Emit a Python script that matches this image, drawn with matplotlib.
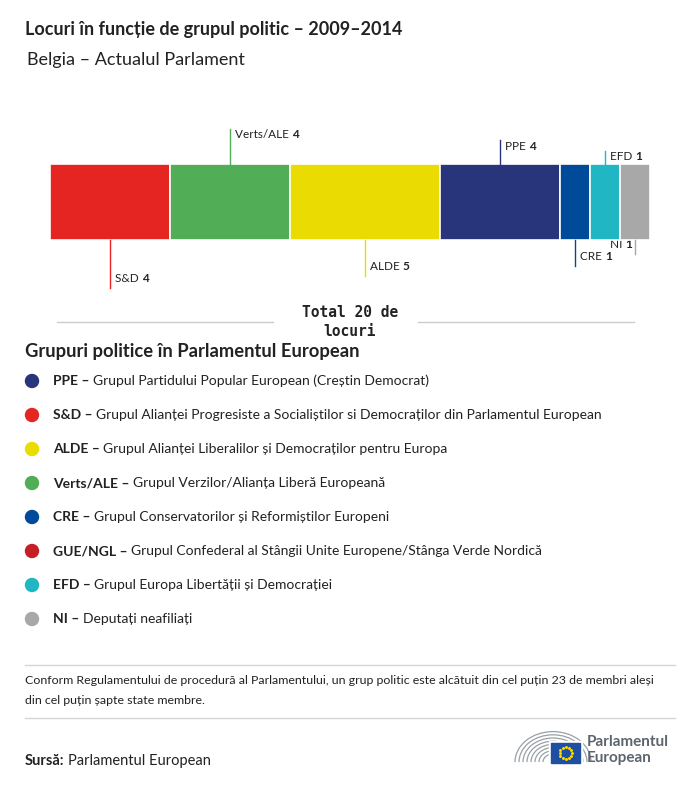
import matplotlib
matplotlib.use('Agg')
import matplotlib.pyplot as plt
from matplotlib.patches import Arc, Circle, Rectangle
import numpy as np

plt.rcParams['font.family'] = ['Lato', 'DejaVu Sans']

# seats per group, Belgia 2009-2014 (bar order left to right)
groups = ['S&D', 'Verts/ALE', 'ALDE', 'PPE', 'CRE', 'EFD', 'NI']
seats = [4, 4, 5, 4, 1, 1, 1]
bar_colors = ['#e52521', '#52ad57', '#eadc02', '#29357b', '#004a9a', '#21b6c4', '#a8a8a8']
# label side and length of the leader line (px)
label_side = ['down', 'up', 'down', 'up', 'down', 'up', 'down']
leader_len = [48, 35, 36, 24, 26, 13, 14]

# legend
leg_abbr = ['PPE', 'S&D', 'ALDE', 'Verts/ALE', 'CRE', 'GUE/NGL', 'EFD', 'NI']
leg_desc = ['Grupul Partidului Popular European (Creștin Democrat)',
            'Grupul Alianței Progresiste a Socialiștilor si Democraților din Parlamentul European',
            'Grupul Alianței Liberalilor și Democraților pentru Europa',
            'Grupul Verzilor/Alianța Liberă Europeană',
            'Grupul Conservatorilor și Reformiștilor Europeni',
            'Grupul Confederal al Stângii Unite Europene/Stânga Verde Nordică',
            'Grupul Europa Libertății și Democrației',
            'Deputați neafiliați']
leg_colors = ['#29357b', '#e52521', '#eadc02', '#52ad57', '#004a9a', '#c51f25', '#21b6c4', '#a8a8a8']

W, H = 700, 786
fig = plt.figure(figsize=(W / 100, H / 100), dpi=100)

# pixel overlay axes for the text and decorations
ax = fig.add_axes([0, 0, 1, 1])
ax.set_xlim(0, W)
ax.set_ylim(H, 0)
ax.axis('off')

# bar axes: x in seats, y in pixels
bar_top, bar_bot = 164, 240
y0, y1 = 120, 300
bx = fig.add_axes([50 / W, 1 - y1 / H, 600 / W, (y1 - y0) / H])
bx.set_xlim(0, sum(seats))
bx.set_ylim(y1, y0)
bx.axis('off')

lefts = np.cumsum([0] + seats[:-1])
bx.barh((bar_top + bar_bot) / 2, seats, left=lefts, height=bar_bot - bar_top,
        color=bar_colors, edgecolor='white', linewidth=1.2)

fig.canvas.draw()
renderer = fig.canvas.get_renderer()
inv = ax.transData.inverted()

for g, s, l, c, side, ln in zip(groups, seats, lefts, bar_colors, label_side, leader_len):
    xc = l + s / 2
    if side == 'down':
        bx.plot([xc, xc], [bar_bot, bar_bot + ln], color=c, lw=1, clip_on=False)
        ty = bar_bot + ln - 9
    else:
        bx.plot([xc, xc], [bar_top, bar_top - ln], color=c, lw=1, clip_on=False)
        ty = bar_top - ln + 6
    xpix = ax.transData.inverted().transform(bx.transData.transform((xc, 0)))[0]
    if g == 'NI':
        # label sits left of its leader line
        t = ax.text(xpix - 3, ty, str(s), fontsize=8.5, fontweight='bold', va='center',
                    ha='right', color='#222222')
        bb = t.get_window_extent(renderer)
        xs = inv.transform((bb.x0, 0))[0]
        ax.text(xs, ty, g + ' ', fontsize=8.5, va='center', ha='right', color='#222222')
    else:
        t = ax.text(xpix + 5, ty, g + ' ', fontsize=8.5, va='center', ha='left', color='#222222')
        bb = t.get_window_extent(renderer)
        xend = inv.transform((bb.x1, 0))[0]
        ax.text(xend, ty, str(s), fontsize=8.5, fontweight='bold', va='center', ha='left',
                color='#222222')

# title / subtitle
ax.text(25, 30, 'Locuri în funcție de grupul politic – 2009–2014', fontsize=13,
        fontweight='bold', va='center', ha='left', color='#222222')
ax.text(27, 60, 'Belgia – Actualul Parlament', fontsize=13, va='center', ha='left',
        color='#222222')

# total
ax.plot([57, 273], [322, 322], color='#cccccc', lw=1)
ax.plot([418, 634], [322, 322], color='#cccccc', lw=1)
ax.text(350, 322, 'Total 20 de\nlocuri', family='DejaVu Sans Mono', fontsize=10.5,
        fontweight='bold', ha='center', va='center', linespacing=1.35, color='#222222')

# legend
ax.text(25, 352, 'Grupuri politice în Parlamentul European', fontsize=13.2,
        fontweight='bold', va='center', ha='left', color='#222222')
for i, (a, d, c) in enumerate(zip(leg_abbr, leg_desc, leg_colors)):
    y = 381 + i * 34
    ax.add_patch(Circle((32, y), 6.5, color=c))
    t = ax.text(53, y, a + ' – ', fontsize=10, fontweight='bold', va='center', ha='left',
                color='#222222')
    bb = t.get_window_extent(renderer)
    xend = inv.transform((bb.x1, 0))[0]
    ax.text(xend, y, d, fontsize=10, va='center', ha='left', color='#222222')

# footer
ax.plot([25, 675], [665, 665], color='#d5d5d5', lw=1)
ax.plot([25, 675], [718, 718], color='#d5d5d5', lw=1)
ax.text(25, 681, 'Conform Regulamentului de procedură al Parlamentului, un grup politic este '
        'alcătuit din cel puțin 23 de membri aleși', fontsize=8.9, va='center', ha='left',
        color='#222222')
ax.text(25, 700, 'din cel puțin șapte state membre.', fontsize=8.9, va='center', ha='left',
        color='#222222')
t = ax.text(25, 761, 'Sursă:', fontsize=10.5, fontweight='bold', va='center', ha='left',
            color='#222222')
bb = t.get_window_extent(renderer)
xend = inv.transform((bb.x1, 0))[0]
ax.text(xend + 3, 761, 'Parlamentul European', fontsize=10.5, va='center', ha='left',
        color='#222222')

# logo
for r in np.arange(10, 42, 4):
    ax.add_patch(Arc((553, 762), 2 * r, 2 * r * 0.8, theta1=180, theta2=360,
                     color='#9aa0a6', lw=0.9))
ax.add_patch(Rectangle((549, 741), 33, 24, color='white', zorder=3))
ax.add_patch(Rectangle((551, 743), 29, 20, color='#1e4fa0', zorder=4))
ang = np.linspace(0, 2 * np.pi, 13)[:-1]
ax.scatter(565.5 + 6 * np.cos(ang), 753 + 6 * np.sin(ang), s=1.2, color='#ffdd00', zorder=5)
ax.text(587, 742, 'Parlamentul', fontsize=11, fontweight='bold', va='center', ha='left',
        color='#5c646c')
ax.text(587, 758, 'European', fontsize=11, fontweight='bold', va='center', ha='left',
        color='#5c646c')

fig.savefig('out.png', dpi=100, facecolor='white')
